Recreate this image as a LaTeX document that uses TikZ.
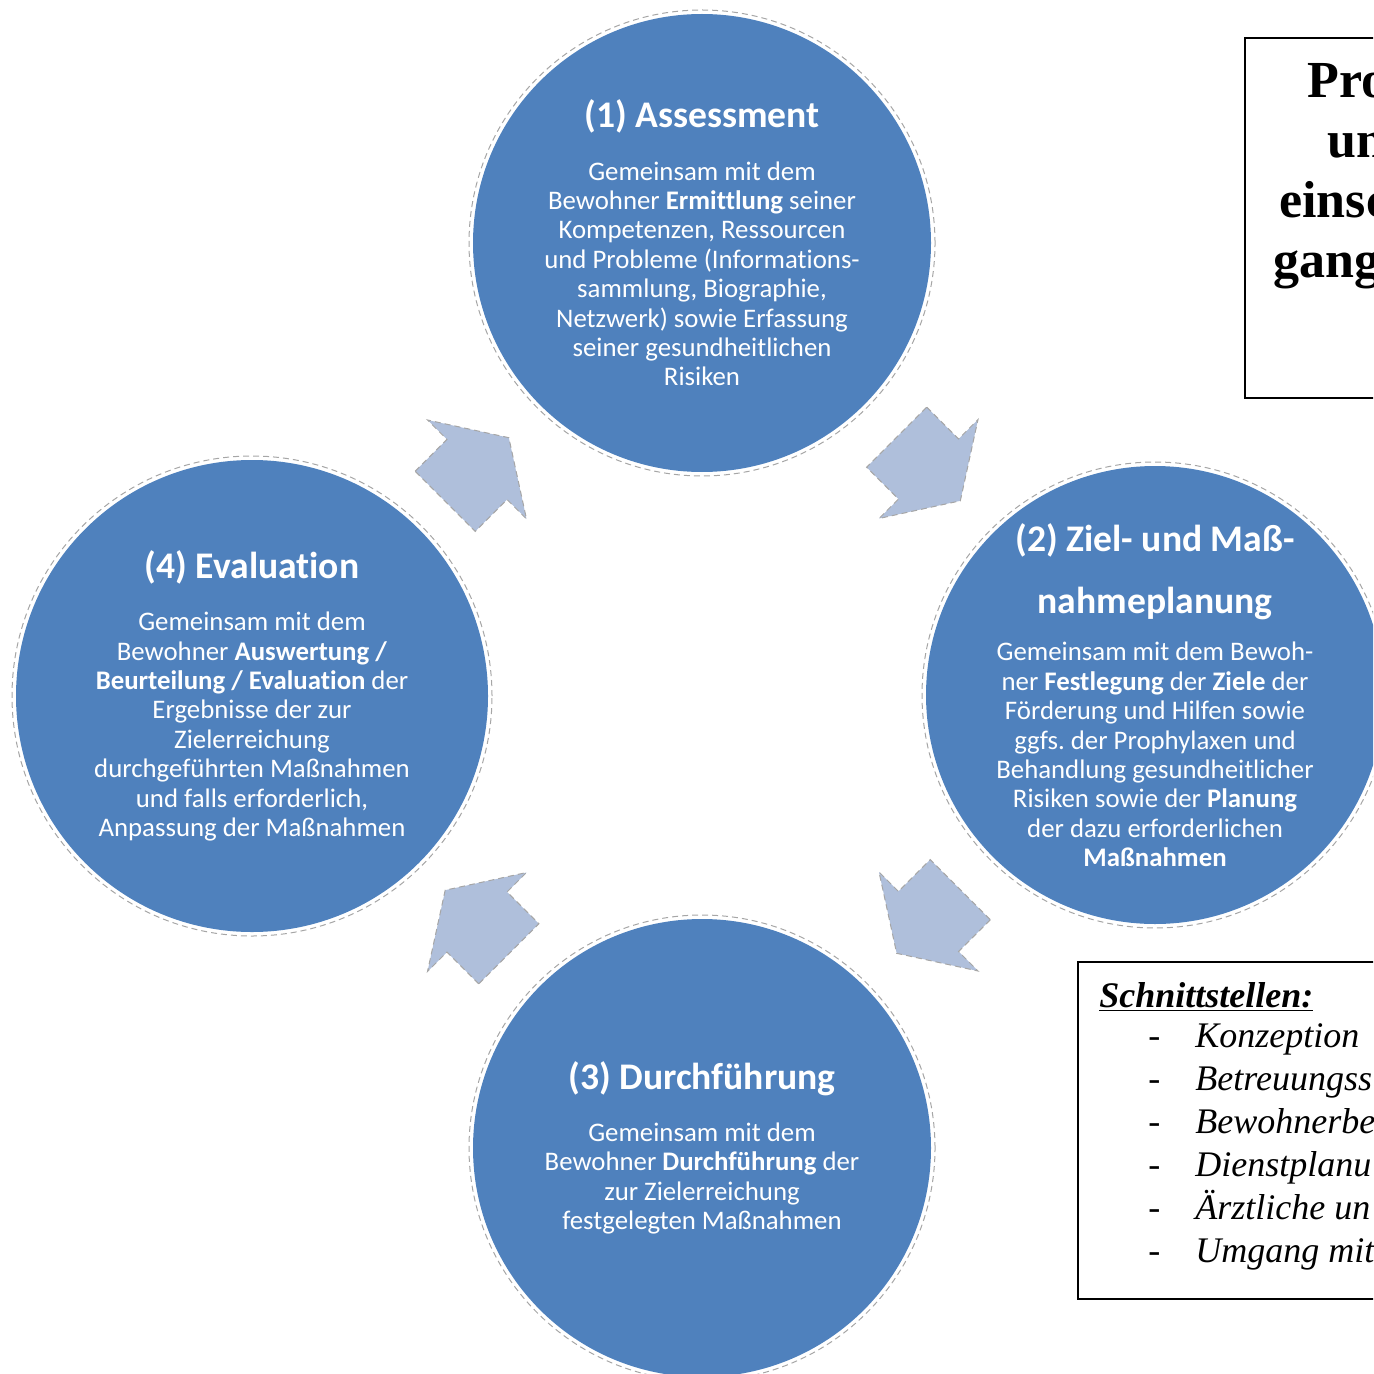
\documentclass[tikz,border=0pt]{standalone}
\usepackage{fontspec}
\setmainfont{Liberation Serif}
\newfontfamily\calibri[Ligatures=NoCommon]{Carlito}
\usetikzlibrary{calc}
\definecolor{phaseblue}{HTML}{4F81BD}
\definecolor{arrowfill}{HTML}{AFBFDB}
\definecolor{ringgray}{HTML}{A6A6A6}
\tikzset{
  phase/.style={circle, draw=ringgray, line width=0.5pt, densely dashed, minimum size=#1, inner sep=-12pt,
    align=center, text=white, font=\calibri\frenchspacing\fontsize{13.4}{14.7}\selectfont,
    path picture={\fill[phaseblue] (path picture bounding box.center) circle (#1/2-2pt);}},
  flow/.style={fill=arrowfill, draw=ringgray, line width=0.5pt, densely dashed, line join=miter},
  frame/.style={draw=black, line width=1pt},
  headline/.style={anchor=base west, inner sep=0pt, font=\fontsize{26}{30}\selectfont\bfseries},
  item/.style={anchor=base west, inner sep=0pt, font=\fontsize{18}{21.5}\selectfont\itshape},
}
\newcommand\phasetitle[1]{{\fontsize{18.8}{19}\selectfont\bfseries #1}}

\begin{document}
\begin{tikzpicture}[x=0.5pt, y=-0.5pt]
  \useasboundingbox (0,0) rectangle (1373,1374);
  \clip (0,0) rectangle (1373,1374);

  % the four phases
  \node[phase=233pt] (assess) at (702,243) {\phasetitle{(1) Assessment}\\[11.5pt]
    Gemeinsam mit dem\\
    Bewohner \textbf{Ermittlung} seiner\\
    Kompetenzen, Ressourcen\\
    und Probleme (Informations-\\
    sammlung, Biographie,\\
    Netzwerk) sowie Erfassung\\
    seiner gesundheitlichen\\
    Risiken};
  \node[phase=233pt] (plan) at (1155,695) {\phasetitle{(2) Ziel- und Maß-}\\[14.3pt]
    \phasetitle{nahmeplanung}\\[8.8pt]
    Gemeinsam mit dem Bewoh-\\
    ner \textbf{Festlegung} der \textbf{Ziele} der\\
    Förderung und Hilfen sowie\\
    ggfs. der Prophylaxen und\\
    Behandlung gesundheitlicher\\
    Risiken sowie der \textbf{Planung}\\
    der dazu erforderlichen\\
    \textbf{Maßnahmen}};
  \node[phase=233pt] (act) at (702,1148) {\phasetitle{(3) Durchführung}\\[11.3pt]
    Gemeinsam mit dem\\
    Bewohner \textbf{Durchführung} der\\
    zur Zielerreichung\\
    festgelegten Maßnahmen};
  \node[phase=240pt] (eval) at (252,696) {\phasetitle{(4) Evaluation}\\[11.3pt]
    Gemeinsam mit dem\\
    Bewohner \textbf{Auswertung /}\\
    \textbf{Beurteilung / Evaluation} der\\
    Ergebnisse der zur\\
    Zielerreichung\\
    durchgeführten Maßnahmen\\
    und falls erforderlich,\\
    Anpassung der Maßnahmen};

  % block arrows between the phases
  \foreach \from/\to/\ang in {eval/assess/45, assess/plan/-45, plan/act/-135, act/eval/135}
    \draw[flow, shift={($(\from)!0.5!(\to)$)}, rotate=\ang]
      (-45,-42.5) -- (0,-42.5) -- (0,-70) -- (45,0) -- (0,70) -- (0,42.5) -- (-45,42.5) -- cycle;

  % boxes on the right
  \draw[frame] (1245,38) rectangle (1400,398);
  \foreach \x/\y/\txt [count=\i] in {1307/98/Pro, 1327/158/un, 1279/218/einsc, 1273/278/gang}
    \node[headline] (head\i) at (\x,\y) {\txt};

  \draw[frame] (1078,962) rectangle (1400,1299);
  \node[item, font=\fontsize{18}{21.5}\selectfont\bfseries\itshape] (iface) at (1099,1007) {\underline{Schnittstellen:}};
  \foreach \txt [count=\i from 0] in {Konzeption, Betreuungss, Bewohnerbe, Dienstplanu, Ärztliche un, Umgang mit} {
    \node[item, font=\fontsize{18}{21.5}\selectfont] (dash\i) at (1148,1047+43*\i) {-};
    \node[item] (iface\i) at (1195,1047+43*\i) {\txt};
  }
\end{tikzpicture}
\end{document}
